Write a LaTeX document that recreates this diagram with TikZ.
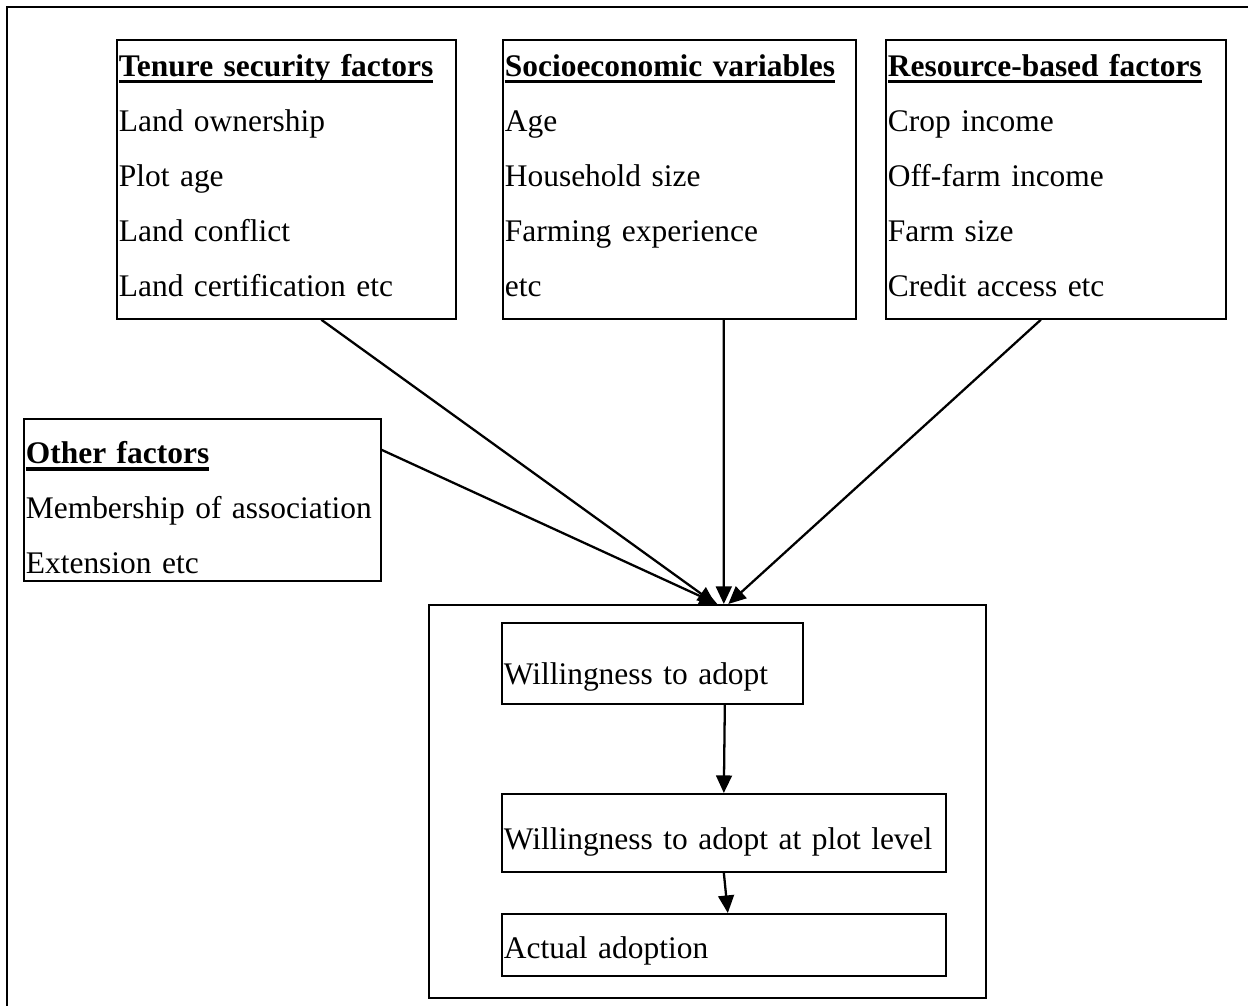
\documentclass[tikz,border=0pt]{standalone}
\usepackage{fontspec}
\setmainfont{Liberation Serif}
\usetikzlibrary{arrows.meta}

% bold heading with a thick rule under it
\newcommand\factorhead[1]{\setbox0\hbox{\textbf{#1}}\rlap{\rule[-3.8pt]{\wd0}{1.9pt}}\box0}

\begin{document}
\begin{tikzpicture}[x=0.02cm, y=-0.02cm,
    box/.style={draw, line width=1pt, anchor=north west, inner xsep=0.04cm,
      inner ysep=0pt, align=left, font=\fontsize{17.9}{31.3}\selectfont},
    arr/.style={-{Triangle[length=10pt,width=9pt]}, line width=1.3pt}]
    \useasboundingbox (0,0) rectangle (1248,1006);
    \draw[line width=1.3pt] (7,1012) -- (7,7) -- (1254,7);

    % the three groups of factors on top
    \node[box, text width=6.70cm, minimum width=6.78cm, text height=21pt, text depth=137.8pt] (tenure) at (116,39)
      {\factorhead{Tenure security factors}\\Land ownership\\Plot age\\Land conflict\\Land certification etc};
    \node[box, text width=6.98cm, minimum width=7.06cm, text height=21pt, text depth=137.8pt] (socio) at (502,39)
      {\factorhead{Socioeconomic variables}\\Age\\Household size\\Farming experience\\etc};
    \node[box, text width=6.72cm, minimum width=6.80cm, text height=21pt, text depth=137.8pt] (resource) at (885,39)
      {\factorhead{Resource-based factors}\\Crop income\\Off-farm income\\Farm size\\Credit access etc};
    \node[box, text width=7.06cm, minimum width=7.14cm, text height=25.6pt, text depth=66.6pt] (other) at (23,418)
      {\factorhead{Other factors}\\Membership of association\\Extension etc};

    % adoption stages
    \node[box, minimum width=11.14cm, minimum height=7.86cm] (outcome) at (428,604) {};
    \node[box, text width=5.94cm, minimum width=6.02cm, text height=35.3pt, text depth=10.8pt] (willing) at (501,622)
      {Willingness to adopt};
    \node[box, text width=8.80cm, minimum width=8.88cm, text height=31.9pt, text depth=12.5pt] (plot) at (501,793)
      {Willingness to adopt at plot level};
    \node[box, text width=8.80cm, minimum width=8.88cm, text height=25.6pt, text depth=9.7pt] (actual) at (501,913)
      {Actual adoption};

    \draw[arr] ([xshift=0.7cm]tenure.south) -- ([xshift=0.16cm]outcome.north);
    \draw[arr] ([xshift=0.89cm]socio.south) -- ([xshift=0.33cm]outcome.north);
    \draw[arr] ([xshift=-0.3cm]resource.south) -- ([xshift=0.42cm]outcome.north);
    \draw[arr] ([yshift=1cm]other.east) -- ([xshift=0.2cm]outcome.north);
    \draw[arr] ([xshift=1.45cm]willing.south) -- (plot.north);
    \draw[arr] (plot.south) -- ([xshift=0.08cm]actual.north);
  \end{tikzpicture}
\end{document}
